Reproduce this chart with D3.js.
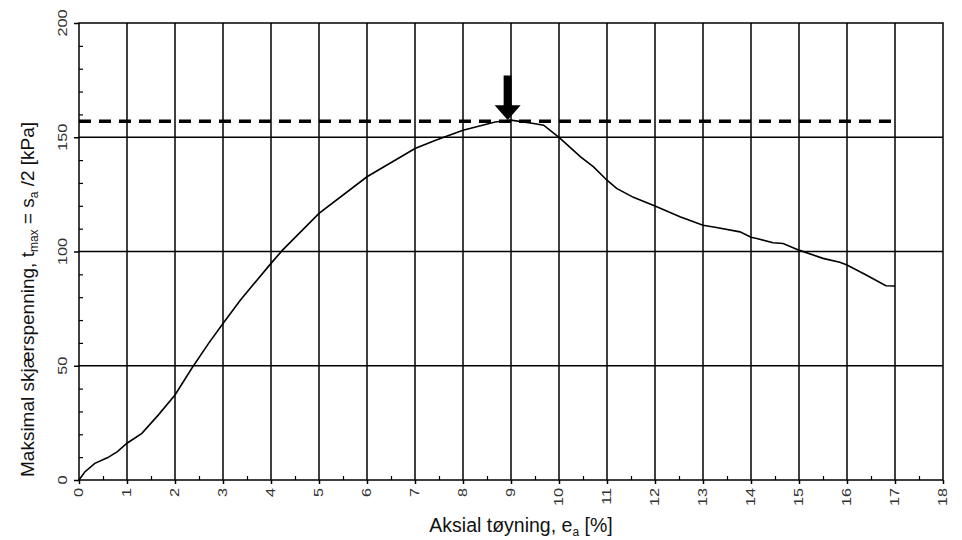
<!DOCTYPE html>
<html>
<head>
<meta charset="utf-8">
<script src="https://cdn.jsdelivr.net/npm/d3@7"></script>
<style>
  body { margin: 0; background: #fff; }
  text { font-family: "Liberation Sans", Arial, sans-serif; }
</style>
</head>
<body>
<div id="chart"></div>
<script>
// Aksial tøyning [%] og maksimal skjærspenning [kPa]
const strain = [0, 0.12, 0.33, 0.6, 0.8, 1, 1.31, 1.65, 2, 2.35, 2.7, 3, 3.36, 4, 4.24, 5, 6, 7, 7.43, 8, 8.67, 9,
  9.47, 9.68, 10, 10.45, 10.72, 11, 11.2, 11.55, 12, 12.52, 13, 13.28, 13.77, 14, 14.12, 14.46, 14.67,
  15, 15.5, 15.85, 16, 16.4, 16.81, 17];
const stress = [0, 3.5, 7.3, 9.8, 12.4, 16.1, 20.4, 28.4, 37.2, 48.9, 59.8, 68.5, 78.7, 94.8, 100.6, 116.7, 132.7, 145.1, 148.7, 153.1, 156.7, 157.5,
  156, 155.3, 149.9, 141.4, 137, 131.2, 127.6, 123.7, 119.9, 115.2, 111.5, 110.5, 108.6, 106.2, 105.7, 103.8, 103.5,
  100.6, 97, 95.3, 94.1, 89.7, 85, 84.9];

const xTicks = d3.range(0, 19);          // 0..18
const yTicks = [0, 50, 100, 150, 200];
const peakStress = 157;                  // stiplet linje
const peakEnd = 17;
const arrowX = 8.93, arrowTop = 177, arrowHeadBase = 164, arrowTip = 157.5;

const width = 962, height = 540;
const svg = d3.select("#chart").append("svg")
  .attr("width", width)
  .attr("height", height);

const x = d3.scaleLinear().domain([0, 18]).range([79, 943]);
const y = d3.scaleLinear().domain([0, 200]).range([480, 23]);

// Rutenett
svg.append("g")
  .selectAll("line")
  .data(xTicks.slice(1, -1))
  .enter()
  .append("line")
  .attr("x1", d => x(d)).attr("x2", d => x(d))
  .attr("y1", y(0)).attr("y2", y(200))
  .attr("stroke", "#000").attr("stroke-width", 1.5);

svg.append("g")
  .selectAll("line")
  .data(yTicks.slice(1, -1))
  .enter()
  .append("line")
  .attr("x1", x(0)).attr("x2", x(18))
  .attr("y1", d => y(d)).attr("y2", d => y(d))
  .attr("stroke", "#000").attr("stroke-width", 1.5);

// Ramme
svg.append("rect")
  .attr("x", x(0)).attr("y", y(200))
  .attr("width", x(18) - x(0)).attr("height", y(0) - y(200))
  .attr("fill", "none").attr("stroke", "#000").attr("stroke-width", 1.5);

// Akser med små merker
const xAxis = svg.append("g")
  .attr("transform", `translate(0,${y(0)})`)
  .call(d3.axisBottom(x).tickValues(xTicks).tickSize(4).tickFormat(""));
xAxis.select(".domain").remove();
xAxis.selectAll("line").attr("stroke", "#000").attr("stroke-width", 1.5);

svg.append("g")
  .attr("transform", `translate(0,${y(0)})`)
  .call(d3.axisTop(x).tickValues(d3.range(0.5, 18, 1)).tickSize(4).tickFormat(""))
  .call(g => g.select(".domain").remove())
  .selectAll("line").attr("stroke", "#000").attr("stroke-width", 1.2);

const yAxis = svg.append("g")
  .attr("transform", `translate(${x(0)},0)`)
  .call(d3.axisLeft(y).tickValues(yTicks).tickSize(5).tickFormat(""));
yAxis.select(".domain").remove();
yAxis.selectAll("line").attr("stroke", "#000").attr("stroke-width", 1.5);

svg.append("g")
  .attr("transform", `translate(${x(0)},0)`)
  .call(d3.axisRight(y).tickValues(d3.range(10, 200, 10).filter(d => d % 50 !== 0)).tickSize(4).tickFormat(""))
  .call(g => g.select(".domain").remove())
  .selectAll("line").attr("stroke", "#000").attr("stroke-width", 1.2);

// Tall på aksene (rotert, litt strukket)
svg.append("g")
  .selectAll("text")
  .data(xTicks)
  .enter()
  .append("text")
  .attr("transform", d => `translate(${x(d)},${y(0) + 8}) rotate(-90) scale(1.3,1)`)
  .attr("text-anchor", "end")
  .attr("dy", "0.35em")
  .style("font-size", "12.5px")
  .style("fill", "#333")
  .text(d => d);

svg.append("g")
  .selectAll("text")
  .data(yTicks)
  .enter()
  .append("text")
  .attr("transform", d => `translate(${x(0) - 12},${y(d)}) rotate(-90) scale(1.3,1)`)
  .attr("text-anchor", "middle")
  .style("font-size", "12.5px")
  .style("fill", "#333")
  .text(d => d);

// Stiplet linje for maks
svg.append("line")
  .attr("x1", x(0)).attr("x2", x(peakEnd))
  .attr("y1", y(peakStress)).attr("y2", y(peakStress))
  .attr("stroke", "#000").attr("stroke-width", 3.5)
  .attr("stroke-dasharray", "12,8");

// Kurve
const pts = strain.map((e, i) => ({ e: e, t: stress[i] }));
const line = d3.line().x(d => x(d.e)).y(d => y(d.t));
svg.append("path")
  .datum(pts)
  .attr("d", line)
  .attr("fill", "none")
  .attr("stroke", "#000")
  .attr("stroke-width", 1.6);

// Pil ved maksimum
const ax = x(arrowX);
svg.append("path")
  .attr("d", `M${ax - 4},${y(arrowTop)} L${ax + 4},${y(arrowTop)} L${ax + 4},${y(arrowHeadBase)}
    L${ax + 13},${y(arrowHeadBase)} L${ax},${y(arrowTip)} L${ax - 13},${y(arrowHeadBase)}
    L${ax - 4},${y(arrowHeadBase)} Z`)
  .attr("fill", "#000");

// Aksetitler
svg.append("text")
  .attr("x", x(9) + 10)
  .attr("y", 532)
  .attr("text-anchor", "middle")
  .style("font-size", "19.5px")
  .style("fill", "#111")
  .html('Aksial tøyning, e<tspan font-size="12px" dy="4">a</tspan><tspan dy="-4"> [%]</tspan>');

svg.append("text")
  .attr("transform", `translate(34,477) rotate(-90)`)
  .attr("text-anchor", "start")
  .style("font-size", "19px")
  .style("fill", "#111")
  .html('Maksimal skjærspenning, t<tspan font-size="12px" dy="4">max</tspan><tspan dy="-4"> = s</tspan><tspan font-size="12px" dy="4">a</tspan><tspan dy="-4"> /2  [kPa]</tspan>');
</script>
</body>
</html>
